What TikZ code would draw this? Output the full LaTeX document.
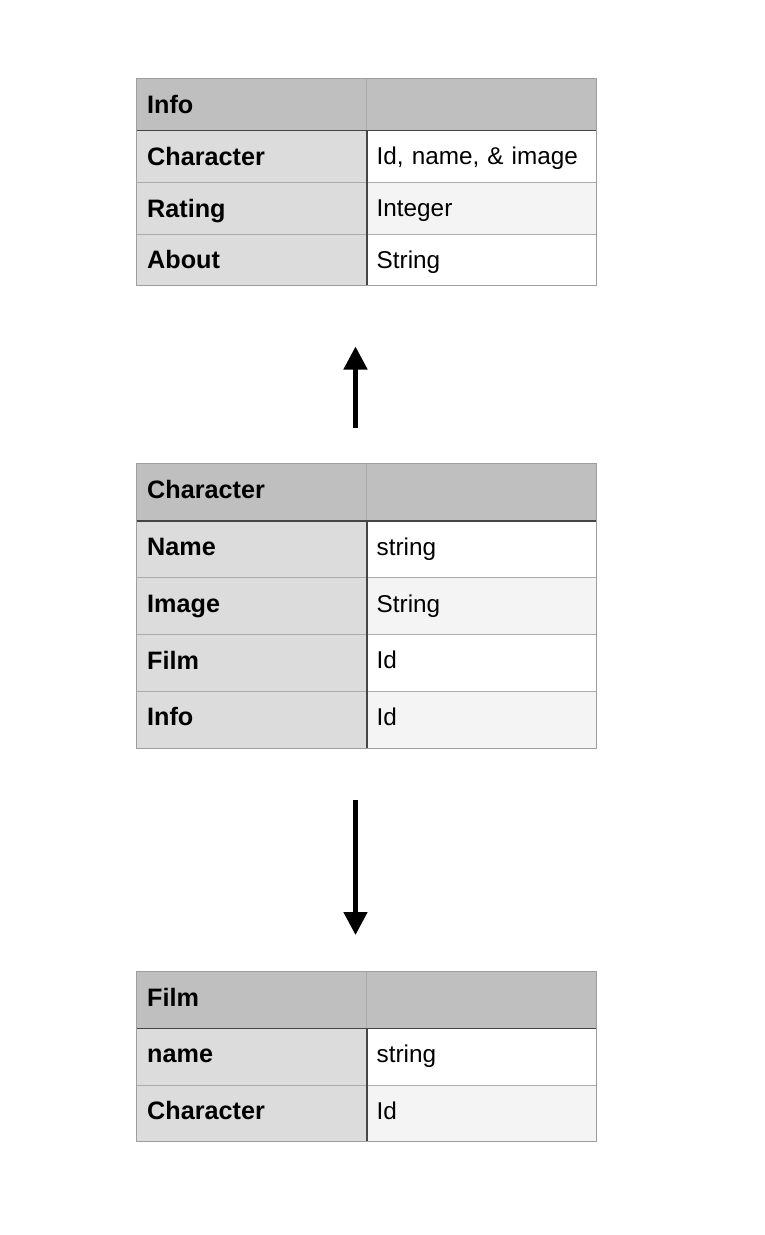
\documentclass[tikz,border=0pt]{standalone}
\usepackage{fontspec}
\setmainfont{Liberation Sans}
\usetikzlibrary{arrows.meta}
\definecolor{hdr}{HTML}{BEBFBE}
\definecolor{keyc}{HTML}{DCDCDC}
\definecolor{alt}{HTML}{F4F4F4}
\definecolor{outerc}{HTML}{9E9E9E}
\definecolor{rowc}{HTML}{ABABAB}
\definecolor{darkc}{HTML}{454545}
\newcommand{\tabfont}{\fontsize{24.3}{28}\selectfont}
\newcommand{\tabbold}{\fontsize{25.2}{29}\selectfont\bfseries}
\tikzset{
  cellL/.style={rectangle, anchor=north west, inner xsep=11pt, inner ysep=0pt,
    text width=208.5pt, minimum height=#1, align=left,
    text height=18pt, text depth=0pt, font=\tabbold, fill=keyc},
  cellR/.style={rectangle, anchor=north west, inner xsep=10pt, inner ysep=0pt,
    text width=210pt, minimum height=#1, align=left,
    text height=17.4pt, text depth=0pt, font=\tabfont, fill=white},
  upshift/.style={text depth=5.5pt},
  outerline/.style={draw=outerc, line width=1pt},
  rowline/.style={draw=rowc, line width=1pt},
  hdrline/.style={draw=darkc, line width=1.3pt},
  colline/.style={draw=darkc, line width=1.2pt},
  hcolline/.style={draw=rowc, line width=1pt},
  bigarrow/.style={line width=4.8pt, -{Triangle[width=23pt,length=23pt]}}
}
\begin{document}
\begin{tikzpicture}[x=1pt,y=-1pt]
\useasboundingbox (0,0) rectangle (764,1235);
% ---------- Table 1: Info ----------
\node[cellL=52pt, fill=hdr] (t1h) at (136,78) {Info};
\node[cellR=52pt, fill=hdr] (t1hv) at (366.5,78) {};
\node[cellL=52pt] (t1a) at (136,130) {Character};
\node[cellR=52pt] (t1av) at (366.5,130) {Id, name, \& image};
\node[cellL=52pt] (t1b) at (136,182) {Rating};
\node[cellR=52pt, fill=alt] (t1bv) at (366.5,182) {Integer};
\node[cellL=51pt] (t1c) at (136,234) {About};
\node[cellR=51pt] (t1cv) at (366.5,234) {String};
\draw[rowline] (t1a.south west) -- (t1av.south east);
\draw[rowline] (t1b.south west) -- (t1bv.south east);
\draw[hcolline] (t1h.north east) -- (t1h.south east);
\draw[colline] (t1a.north east) -- (t1c.south east);
\draw[hdrline] (t1h.south west) -- (t1hv.south east);
\draw[outerline] (t1h.north west) rectangle (t1cv.south east);
% ---------- Table 2: Character ----------
\node[cellL=57pt, fill=hdr, upshift] (t2h) at (136,463.5) {Character};
\node[cellR=57pt, fill=hdr, upshift] (t2hv) at (366.5,463.5) {};
\node[cellL=57pt, upshift] (t2a) at (136,520.5) {Name};
\node[cellR=57pt, upshift] (t2av) at (366.5,520.5) {string};
\node[cellL=56.8pt, upshift] (t2b) at (136,577.5) {Image};
\node[cellR=56.8pt, fill=alt, upshift] (t2bv) at (366.5,577.5) {String};
\node[cellL=56.8pt, upshift] (t2c) at (136,634.3) {Film};
\node[cellR=56.8pt, upshift] (t2cv) at (366.5,634.3) {Id};
\node[cellL=56.7pt, upshift] (t2d) at (136,691.1) {Info};
\node[cellR=56.7pt, fill=alt, upshift] (t2dv) at (366.5,691.1) {Id};
\draw[rowline] (t2a.south west) -- (t2av.south east);
\draw[rowline] (t2b.south west) -- (t2bv.south east);
\draw[rowline] (t2c.south west) -- (t2cv.south east);
\draw[hcolline] (t2h.north east) -- (t2h.south east);
\draw[colline] (t2a.north east) -- (t2d.south east);
\draw[hdrline] (t2h.south west) -- (t2hv.south east);
\draw[outerline] (t2h.north west) rectangle (t2dv.south east);
% ---------- Table 3: Film ----------
\node[cellL=56.5pt, fill=hdr, upshift] (t3h) at (136,971.5) {Film};
\node[cellR=56.5pt, fill=hdr, upshift] (t3hv) at (366.5,971.5) {};
\node[cellL=56.8pt, upshift] (t3a) at (136,1028) {name};
\node[cellR=56.8pt, upshift] (t3av) at (366.5,1028) {string};
\node[cellL=56.2pt, upshift] (t3b) at (136,1084.8) {Character};
\node[cellR=56.2pt, fill=alt, upshift] (t3bv) at (366.5,1084.8) {Id};
\draw[rowline] (t3a.south west) -- (t3av.south east);
\draw[hcolline] (t3h.north east) -- (t3h.south east);
\draw[colline] (t3a.north east) -- (t3b.south east);
\draw[hdrline] (t3h.south west) -- (t3hv.south east);
\draw[outerline] (t3h.north west) rectangle (t3bv.south east);
% ---------- Arrows ----------
\coordinate (a1s) at (355.5,428);
\coordinate (a1e) at (355.5,346.5);
\coordinate (a2s) at (355.5,800);
\coordinate (a2e) at (355.5,935);
\draw[bigarrow] (a1s) -- (a1e);
\draw[bigarrow] (a2s) -- (a2e);
\end{tikzpicture}
\end{document}
